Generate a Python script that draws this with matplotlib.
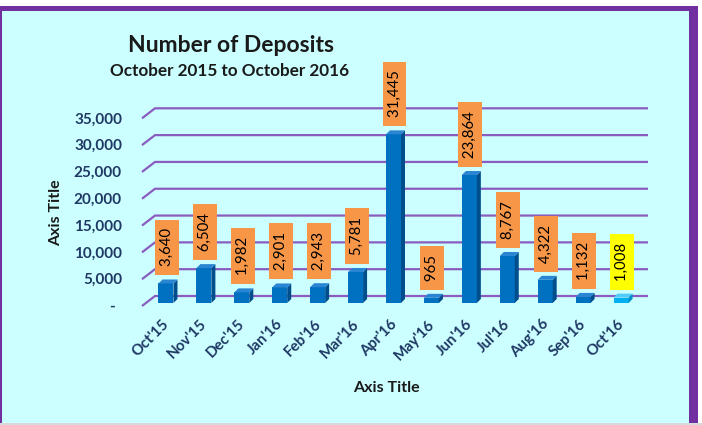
import matplotlib
matplotlib.use('Agg')
import matplotlib.pyplot as plt
from matplotlib.patches import Rectangle, Polygon

# ---------------- data ----------------
months = ["Oct'15", "Nov'15", "Dec'15", "Jan'16", "Feb'16", "Mar'16", "Apr'16",
          "May'16", "Jun'16", "Jul'16", "Aug'16", "Sep'16", "Oct'16"]
deposits = [3640, 6504, 1982, 2901, 2943, 5781, 31445, 965, 23864, 8767, 4322, 1132, 1008]
y_ticks = [0, 5000, 10000, 15000, 20000, 25000, 30000, 35000]
y_tick_labels = ['-', '5,000', '10,000', '15,000', '20,000', '25,000', '30,000', '35,000']
title = "Number of Deposits"
subtitle = "October 2015 to October 2016"
x_title = "Axis Title"
y_title = "Axis Title"

# ---------------- style ----------------
FONT = 'Lato'
NAVY = '#1F3864'
PURPLE = '#7030A0'
GRID = '#8A5CC0'
CYAN = '#CCFFFF'
ORANGE = '#F79646'
YELLOW = '#FFFF00'
BAR_FRONT, BAR_SIDE, BAR_TOP = '#0070C0', '#004E8C', '#2A86D2'
LAST_FRONT, LAST_SIDE, LAST_TOP = '#00B0F0', '#0090C8', '#50CCF8'

W, H = 702, 425
fig = plt.figure(figsize=(W / 100, H / 100), dpi=100)
fig.patch.set_facecolor('white')

def fx(px):
    return px / W

def fy(py):
    return (H - py) / H

# frame
fig.patches.append(Rectangle((0, fy(423)), fx(698), (423 - 6) / H, transform=fig.transFigure,
                             facecolor=PURPLE, edgecolor='none', zorder=-3))
fig.patches.append(Rectangle((fx(2), fy(423)), fx(689 - 2), (423 - 11) / H, transform=fig.transFigure,
                             facecolor=CYAN, edgecolor='none', zorder=-2))
fig.patches.append(Rectangle((0, 0), 1, 2 / H, transform=fig.transFigure,
                             facecolor='#D9D9D9', edgecolor='none', zorder=-2))

# axes (back wall of the 3-D plot)
L, R, T, B = 155, 648, 108.3, 296
ax = fig.add_axes([fx(L), fy(B), (R - L) / W, (B - T) / H])
ax.set_xlim(-0.5, len(months) - 0.5)
ax.set_ylim(0, 35000)
ax.axis('off')
ax.patch.set_alpha(0)

ux = len(months) / (R - L)        # data units per pixel (x)
uy = 35000 / (B - T)              # data units per pixel (y)

# gridlines with 3-D diagonal to front
for t in y_ticks:
    ax.plot([-0.5 - 13 * ux, -0.5, len(months) - 0.5], [t - 10 * uy, t, t],
            color=GRID, lw=1.6, clip_on=False, zorder=1, solid_capstyle='butt')

# bars
fw, dx, dy, offx, offy = 15, 4, 4, -8, -7
for i, v in enumerate(deposits):
    last = i == len(deposits) - 1
    cf, cs, ct = (LAST_FRONT, LAST_SIDE, LAST_TOP) if last else (BAR_FRONT, BAR_SIDE, BAR_TOP)
    xc = i + offx * ux
    xl, xr = xc - fw / 2 * ux, xc + fw / 2 * ux
    y0 = offy * uy
    top = v + y0
    ax.bar(xc, v, width=fw * ux, bottom=y0, color=cf, zorder=3, clip_on=False)
    ax.add_patch(Polygon([(xr, y0), (xr + dx * ux, y0 + dy * uy), (xr + dx * ux, top + dy * uy), (xr, top)],
                         closed=True, facecolor=cs, edgecolor='none', zorder=3, clip_on=False))
    ax.add_patch(Polygon([(xl, top), (xr, top), (xr + dx * ux, top + dy * uy), (xl + dx * ux, top + dy * uy)],
                         closed=True, facecolor=ct, edgecolor='none', zorder=3, clip_on=False))
    # data label
    pad_px = 5
    ax.text(xc + 1 * ux, v + (pad_px + 1) * uy, ' ' + f'{v:,}' + ' ', rotation=90, ha='center', va='bottom',
            fontsize=10.8, family=FONT, color='black', zorder=5, clip_on=False,
            bbox=dict(boxstyle='square,pad=0.33', facecolor=YELLOW if last else ORANGE, edgecolor='none'))
    # x tick label
    ax.text(xc + 1 * ux, -26 * uy, months[i], rotation=45, rotation_mode='anchor', ha='right', va='center',
            fontsize=10.8, fontweight='bold', family=FONT, color=NAVY, clip_on=False)

# y tick labels (front plane)
for t, lab in zip(y_ticks, y_tick_labels):
    extra = -7 if lab == '-' else 0
    ax.text(-0.5 + (-33 + extra) * ux, t - 11 * uy, lab, ha='right', va='center',
            fontsize=11, fontweight='bold', family=FONT, color=NAVY, clip_on=False)

# titles
fig.text(fx(231), fy(45), title, ha='center', va='center', fontsize=16.5, fontweight='bold',
         family=FONT, color='#1A1A1A')
fig.text(fx(230), fy(71), subtitle, ha='center', va='center', fontsize=12.3, fontweight='bold',
         family=FONT, color='#1A1A1A')
fig.text(fx(386), fy(388), x_title, ha='center', va='center', fontsize=11.5, fontweight='bold',
         family=FONT, color='#1A1A1A')
fig.text(fx(56), fy(213), y_title, ha='center', va='center', rotation=90, fontsize=11.5,
         fontweight='bold', family=FONT, color='#1A1A1A')

fig.savefig('out.png', dpi=100, facecolor=fig.get_facecolor())
